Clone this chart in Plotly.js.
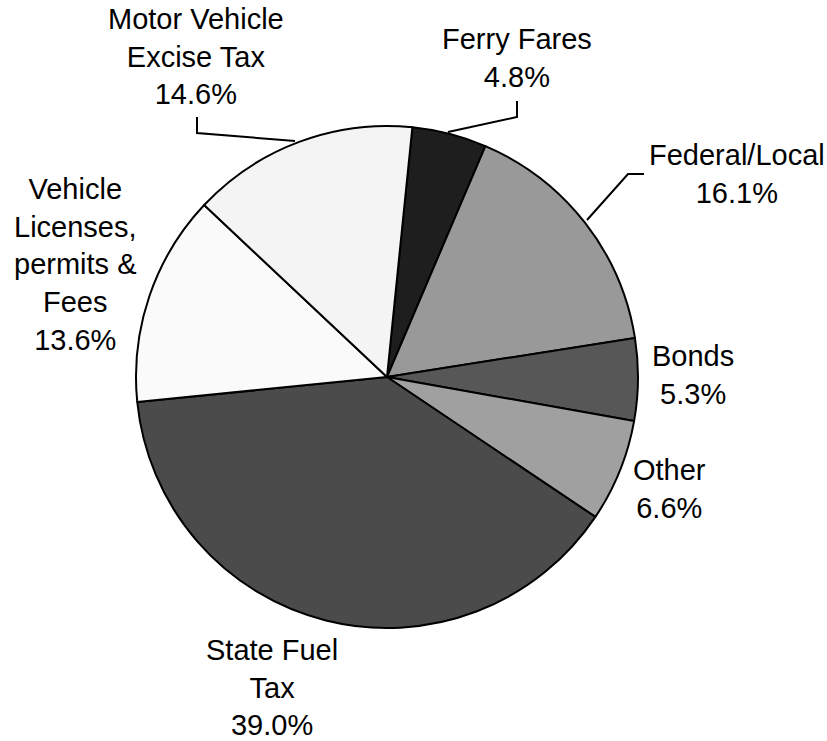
<!DOCTYPE html>
<html>
<head>
<meta charset="utf-8">
<script src="https://cdn.plot.ly/plotly-3.0.1.min.js"></script>
<style>html,body{margin:0;padding:0;background:#fff;}#chart{width:827px;height:741px;}</style>
</head>
<body>
<div id="chart"></div>
<script>
// Data (clockwise from just right of 12 o'clock)
var categories = ["Ferry Fares", "Federal/Local", "Bonds", "Other", "State Fuel Tax", "Vehicle Licenses, permits & Fees", "Motor Vehicle Excise Tax"];
var shares = [4.8, 16.1, 5.3, 6.6, 39.0, 13.6, 14.6];
var labelTexts = [
  "Ferry Fares<br>4.8%",
  "Federal/Local<br>16.1%",
  "Bonds<br>5.3%",
  "Other<br>6.6%",
  "State Fuel<br>Tax<br>39.0%",
  "Vehicle<br>Licenses,<br>permits &<br>Fees<br>13.6%",
  "Motor Vehicle<br>Excise Tax<br>14.6%"
];
var sliceColors = ["#1e1e1e", "#999999", "#575757", "#a0a0a0", "#4b4b4b", "#fafafa", "#f4f4f4"];

// label placement (pixel centers in the 827x741 frame)
var labelPos = [[517, 58], [737, 174], [693, 375], [669, 489], [272, 687], [75, 265], [196, 57]];

var W = 827, H = 741;
function px(x) { return x / W; }
function py(y) { return 1 - y / H; }

var annotations = labelTexts.map(function (t, i) {
  return {
    text: t, x: px(labelPos[i][0]), y: py(labelPos[i][1]), xref: "paper", yref: "paper",
    xanchor: "center", yanchor: "middle", showarrow: false, align: "center",
    font: {family: "Liberation Sans, Arial, sans-serif", size: 29, color: "#000"}
  };
});

function pathOf(pts) {
  return pts.map(function (p, i) { return (i ? "L" : "M") + px(p[0]) + "," + py(p[1]); }).join(" ");
}
var leaders = [
  [[197, 117], [197, 133], [295, 141]],
  [[517, 101], [517, 117], [448, 132]],
  [[644, 174], [628, 174], [587, 220]]
];
var shapes = leaders.map(function (pts) {
  return {type: "path", xref: "paper", yref: "paper", path: pathOf(pts), line: {color: "#000", width: 2}};
});

var trace = {
  type: "pie",
  labels: categories,
  values: shares,
  sort: false,
  direction: "clockwise",
  rotation: 5.8,
  textinfo: "none",
  hoverinfo: "label+percent",
  marker: {colors: sliceColors, line: {color: "#000", width: 2}},
  domain: {x: [136 / W, 638 / W], y: [1 - 628 / H, 1 - 126 / H]}
};

var layout = {
  width: W, height: H,
  margin: {l: 0, r: 0, t: 0, b: 0},
  showlegend: false,
  paper_bgcolor: "#fff",
  annotations: annotations,
  shapes: shapes
};

Plotly.newPlot("chart", [trace], layout, {displayModeBar: false, staticPlot: true});
</script>
</body>
</html>
